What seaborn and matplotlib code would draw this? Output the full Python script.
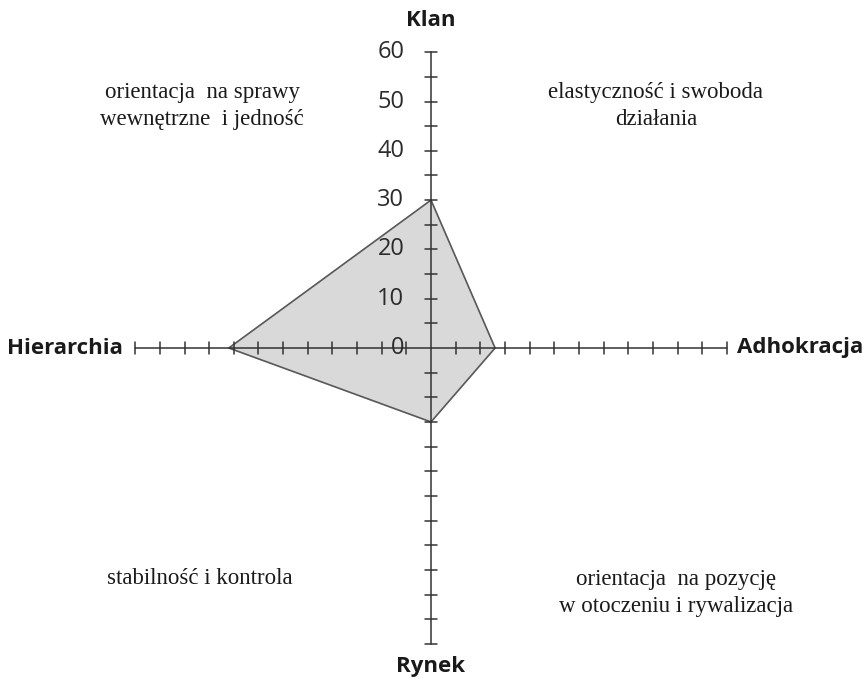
import matplotlib
matplotlib.use("Agg")
import matplotlib.pyplot as plt
import seaborn as sns
import numpy as np
import pandas as pd

sns.set_theme(style="white")
plt.rcParams['font.family'] = ['Open Sans', 'DejaVu Sans']

categories = ["Klan", "Adhokracja", "Rynek", "Hierarchia"]
values = [30, 13, 15, 41]
angles_deg = [90, 0, 270, 180]
tick_values = [0, 10, 20, 30, 40, 50, 60]
quadrant_texts = [
    "orientacja  na sprawy\nwewnętrzne  i jedność",
    "elastyczność i swoboda\ndziałania",
    "stabilność i kontrola",
    "orientacja  na pozycję\nw otoczeniu i rywalizacja",
]

rmax = 60
scale = 4.93  # px per unit
W, H = 868, 683
cx, cy = 431, 348

fig = plt.figure(figsize=(W / 100, H / 100), dpi=100)
ax = fig.add_axes([0, 0, 1, 1])
ax.set_xlim(-cx / scale, (W - cx) / scale)
ax.set_ylim(-(H - cy) / scale, cy / scale)
ax.set_axis_off()

# data polygon
ang = np.deg2rad(angles_deg)
df = pd.DataFrame({
    "cat": categories + [categories[0]],
    "x": list(np.array(values) * np.cos(ang)) + [values[0] * np.cos(ang[0])],
    "y": list(np.array(values) * np.sin(ang)) + [values[0] * np.sin(ang[0])],
})
ax.fill(df["x"], df["y"], color="#d9d9d9", zorder=1)
sns.lineplot(data=df, x="x", y="y", sort=False, ax=ax, color="#595959",
             linewidth=1.2, zorder=2, estimator=None)

# axes lines
axcol = "#333333"
ax.plot([-rmax, rmax], [0, 0], color=axcol, lw=1.1, zorder=3)
ax.plot([0, 0], [-rmax, rmax], color=axcol, lw=1.1, zorder=3)
th = 1.3
for t in range(-rmax, rmax + 1, 5):
    if t == 0:
        continue
    ax.plot([t, t], [-th, th], color=axcol, lw=1.1, zorder=3)
    ax.plot([-th, th], [t, t], color=axcol, lw=1.1, zorder=3)

# tick labels
for v in tick_values:
    ax.text(-5.4, v, str(v), ha="right", va="center", fontsize=17,
            color="#2b2b2b", zorder=4)

# category labels
lab_kw = dict(fontsize=16, fontweight="bold", color="#1a1a1a")
ax.text(0, 66.5, categories[0], ha="center", va="center", **lab_kw)
ax.text(62.0, 0, categories[1], ha="left", va="center", **lab_kw)
ax.text(0, -64.7, categories[2], ha="center", va="center", **lab_kw)
ax.text(-62.6, 0, categories[3], ha="right", va="center", **lab_kw)

# quadrant texts
qkw = dict(fontsize=16.5, family="Liberation Serif", color="#1a1a1a",
           ha="center", va="center", linespacing=1.38)
ax.text((202 - cx) / scale, (cy - 106) / scale, quadrant_texts[0], **qkw)
ax.text((656 - cx) / scale, (cy - 106) / scale, quadrant_texts[1], **qkw)
ax.text((200 - cx) / scale, (cy - 578) / scale, quadrant_texts[2], **qkw)
ax.text((676 - cx) / scale, (cy - 593) / scale, quadrant_texts[3], **qkw)

fig.savefig("out.png", dpi=100, facecolor="white")
